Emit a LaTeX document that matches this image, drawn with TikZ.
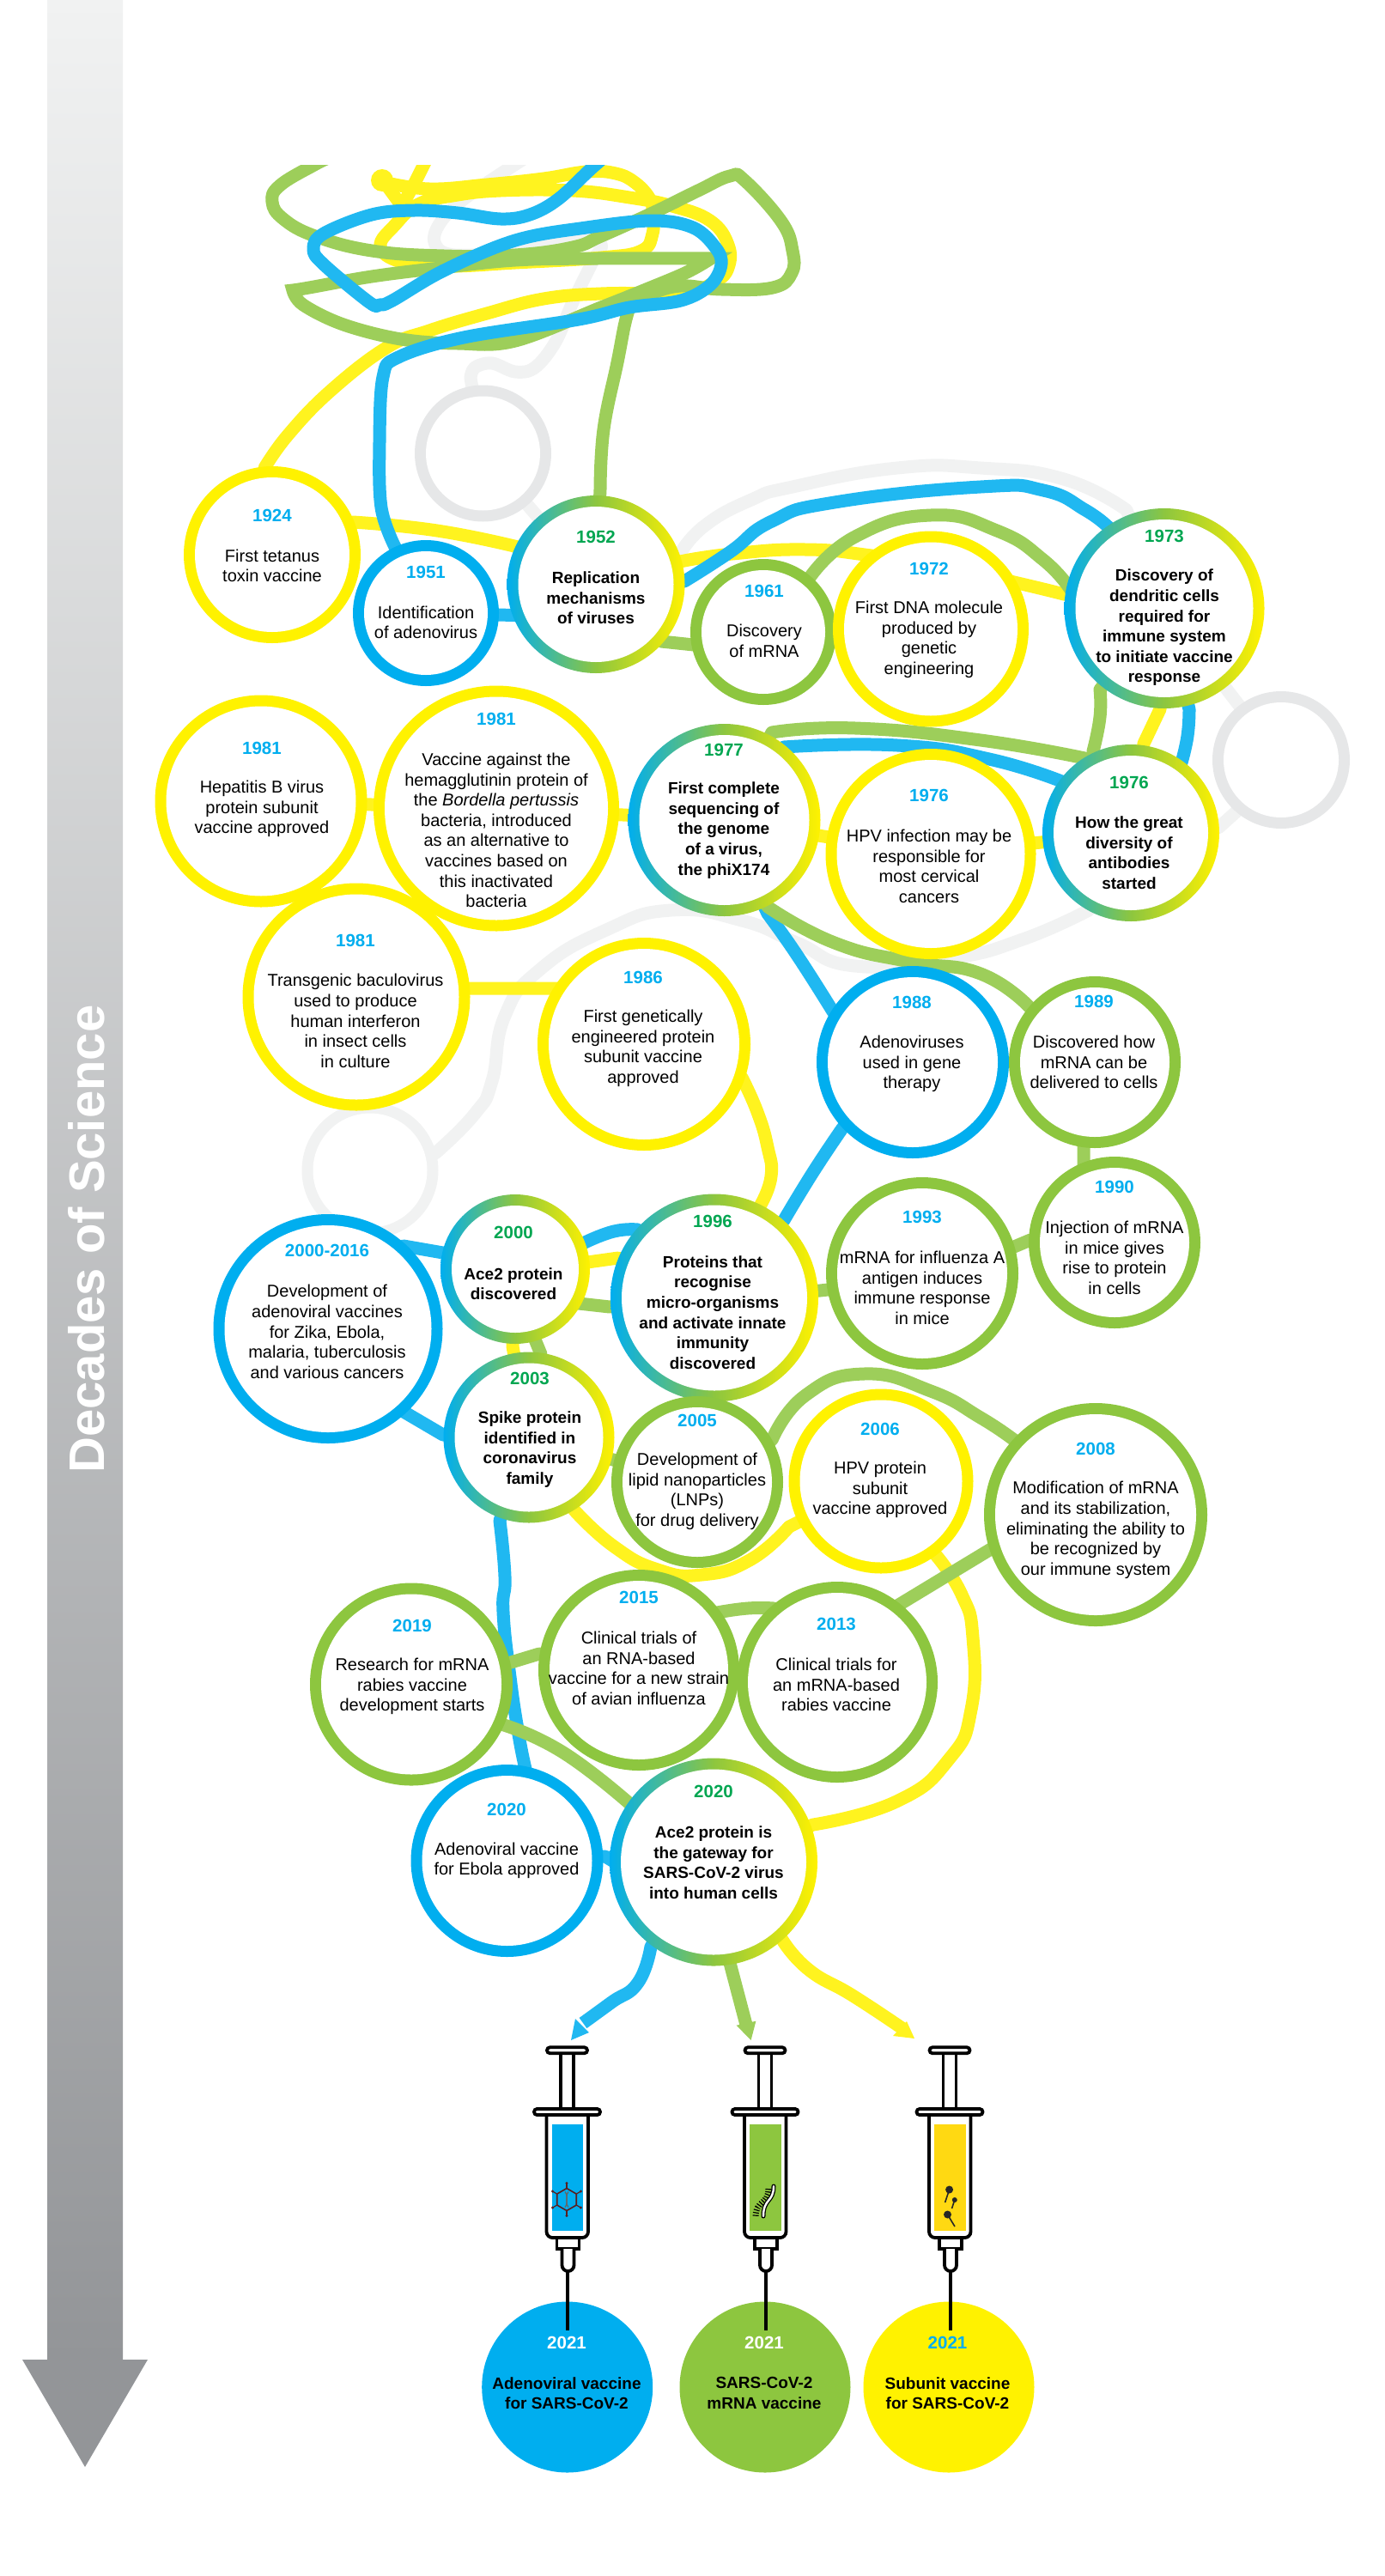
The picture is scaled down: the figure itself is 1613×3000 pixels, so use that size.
\documentclass[tikz,border=0pt]{standalone}
\usepackage{fontspec}
\setmainfont{Liberation Sans}
\definecolor{rblue}{HTML}{00AEEF}
\definecolor{rgreen}{HTML}{8DC63F}
\definecolor{ryellow}{HTML}{FFF200}
\definecolor{lblue}{HTML}{20B8F1}
\definecolor{lgreen}{HTML}{9DCE5A}
\definecolor{lyellow}{HTML}{FFF31F}
\definecolor{lgrey}{HTML}{F1F2F2}
\definecolor{mgrey}{HTML}{E6E7E8}
\definecolor{ygreen}{HTML}{00A651}
\definecolor{dgold}{HTML}{FFD912}
\definecolor{barend}{HTML}{939598}
\definecolor{dnared}{HTML}{5A1E1E}
\pgfdeclarelayer{conns}
\pgfsetlayers{conns,main}
\tikzset{
 ring/.style={circle,inner sep=0pt,outer sep=0pt,draw=none},
 rb/.style={fill=rblue},
 rg/.style={fill=rgreen},
 ry/.style={fill=ryellow},
 rm/.style={fill=mgrey},
 rl/.style={fill=lgrey},
 rgrad/.style={left color=rblue,right color=ryellow,middle color=rgreen},
 conn/.style={line width=15pt,line join=round,line cap=butt},
 cb/.style={conn,draw=lblue},
 cg/.style={conn,draw=lgreen},
 cy/.style={conn,draw=lyellow},
 cl/.style={conn,draw=lgrey},
 yr/.style={font=\fontsize{20.5}{24}\selectfont\bfseries,text=rblue,inner sep=0pt},
 yrg/.style={font=\fontsize{20.5}{24}\selectfont\bfseries,text=ygreen,inner sep=0pt},
 yrw/.style={font=\fontsize{20.5}{24}\selectfont\bfseries,text=white,inner sep=0pt},
 bd/.style={font=\fontsize{20}{23.6}\selectfont,align=center,text=black,inner sep=0pt},
 bdb/.style={font=\fontsize{19}{23.6}\selectfont\bfseries,align=center,text=black,inner sep=0pt},
 syr/.style={draw=black,line width=3.8pt,fill=white},
}
\newcommand\ringn[5]{\node[ring,#5,minimum size=2*#4pt] (#1) at (#2,#3) {};
 \fill[white] (#1.center) circle[radius=#4pt-13pt];}
\newcommand\evt[8]{\node[#6] (y#1) at (#2,#3) {#4}; \node[#7] (t#1) at (#2,#5) {#8};}
% connector: from node to node, a smooth run between, straight pieces hidden beneath the rings
\newcommand\crvn[4]{\draw[#1] (#2.center) -- plot[smooth,tension=.85] coordinates {#3} -- (#4.center);}
\newcommand\syringe[2]{%
 \begin{scope}[shift={(#1,0)}]
  \draw[syr] (-8,2391) rectangle (7,2456);
  \draw[syr,rounded corners=3.4pt] (-24,2384.3) rectangle (23,2391.2);
  \draw[syr,rounded corners=7pt] (-24.5,2462) -- (-24.5,2606) -- (24,2606) -- (24,2462);
  \fill[#2] (-18.5,2474) rectangle (18,2598);
  \draw[syr] (-12.5,2606) rectangle (13.5,2619);
  \draw[syr] (-6.5,2619) -- (-6.5,2638) arc[start angle=180,end angle=360,radius=7pt] -- (7.5,2619);
  \draw[syr,rounded corners=3.4pt] (-39,2456) rectangle (38,2463);
  \draw[black,line width=4pt] (0,2645) -- (0,2714);
 \end{scope}}
\begin{document}
\begin{tikzpicture}[x=1pt,y=-1pt]
\useasboundingbox (0,0) rectangle (1613,3000);
% decades arrow
\shade[top color=lgrey,bottom color=barend] (55,0) rectangle (143,2748);
\fill[barend] (26,2748) -- (172,2748) -- (99,2873) -- cycle;
\node[rotate=90,font=\fontsize{58}{60}\selectfont\bfseries,text=white,inner sep=0pt] (title) at (101,1443) {Decades of Science};
% grey circles
\ringn{gc1}{562.5}{528}{79.5}{rm}
\ringn{gc2}{1492}{885}{80}{rm}
\ringn{gc3}{431}{1363}{79.5}{rl}
% rings
\ringn{n1924}{317}{646}{103}{ry}
\ringn{n1951}{496}{714}{85}{rb}
\ringn{n1952}{694}{680.5}{103.5}{rgrad}
\ringn{n1961}{889}{736}{85}{rg}
\ringn{n1972}{1084}{732.5}{114}{ry}
\ringn{n1973}{1356}{708.5}{116.5}{rgrad}
\ringn{n1976g}{1317}{970}{103}{rgrad}
\ringn{n1976y}{1084}{994.5}{122.5}{ry}
\ringn{n1981a}{304}{933}{123.5}{ry}
\ringn{n1981b}{578}{941.5}{143}{ry}
\ringn{n1977}{843.5}{955}{112}{rgrad}
\ringn{n1981c}{415}{1161}{132.5}{ry}
\ringn{n1986}{750}{1216}{124}{ry}
\ringn{n2000x}{382}{1547.5}{133.5}{rb}
\ringn{n2000}{600}{1478}{87}{rgrad}
\ringn{n1996}{832}{1511.5}{121}{rgrad}
\ringn{n2003}{616}{1674}{99.5}{rgrad}
\ringn{n2005}{812}{1726}{100}{rg}
\ringn{n1988}{1063}{1237}{112}{rb}
\ringn{n1989}{1275}{1237}{100}{rg}
\ringn{n1990}{1298}{1447}{100}{rg}
\ringn{n1993}{1074}{1483}{112}{rg}
\ringn{n2006}{1026}{1725}{107.5}{ry}
\ringn{n2008}{1276}{1764}{130}{rg}
\ringn{n2019}{479}{1961.5}{118}{rg}
\ringn{n2015}{744}{1945}{117}{rg}
\ringn{n2013}{975}{1959}{117}{rg}
\ringn{n2020b}{590.5}{2167}{112}{rb}
\ringn{n2020g}{831}{2168.5}{121}{rgrad}
% discs
\node[ring,rb,minimum size=199pt] (d1) at (660.7,2780) {};
\node[ring,rg,minimum size=199pt] (d2) at (891,2780) {};
\node[ring,ry,minimum size=199pt] (d3) at (1105,2780) {};
% connectors
\begin{pgfonlayer}{conns}
\begin{scope}
\clip (0,192) rectangle (1613,3000);
% grey
\draw[cl] (gc1.center) -- plot[smooth,tension=.6] coordinates {(548,440) (553,428) (573,423) (600,433) (623,428) (647,398) (667,352) (690,305) (700,284) (670,278) (600,292) (530,297) (507,285) (511,262) (540,232) (610,185)};
\draw[cl] (n1952.center) -- (gc1.center);
\crvn{cl}{n1952}{(792,645) (821,612) (875,582) (923,567) (1045,545) (1142,545) (1239,558) (1312,594)}{n1973}
\draw[cl] (n1973.center) -- (gc2.center);
\crvn{cl}{gc2}{(1439,946) (1419,964)}{n1976g}
\crvn{cl}{n1976g}{(1268,1060) (1191,1094) (1108,1116) (996,1125) (928,1098) (864,1072) (782,1060) (706,1083) (629,1129) (588,1183) (573,1259) (553,1297) (507,1343)}{gc3}
\draw[cl] (gc3.center) -- (n2000x.center);
% yellow
\draw[cy] (n1924.center) -- plot[smooth,tension=.7] coordinates {(308,545) (335,507) (384,456) (450,405) (500,385) (567,365) (633,348) (700,342) (767,342) (800,342) (833,328) (848,312) (848,285) (827,257) (783,240) (733,230) (667,222) (583,222) (527,228) (487,238) (460,262) (443,287) (467,305) (520,310) (600,306) (700,300) (747,292) (760,272) (760,248) (757,232) (740,213) (717,202) (683,200) (633,208) (567,215) (500,220) (446,212)};
\fill[lyellow] (445,210) circle[radius=13pt];
\draw[cy] (446,210) -- (468,240) -- (482,215) -- (497,185);
\crvn{cy}{n1924}{(411,608) (509,618) (603,637)}{n1952}
\crvn{cy}{n1952}{(792,654) (853,645) (938,640) (1015,647) (1100,660) (1181,678) (1239,692)}{n1973}
\crvn{cy}{n1973}{(1351,826) (1332,866)}{n1976g}
\draw[cy] (n1976g.center) -- (n1976y.center);
\draw[cy] (n1976y.center) -- (n1977.center);
\draw[cy] (n1977.center) -- (n1981b.center);
\draw[cy] (n1981b.center) -- (n1981a.center);
\draw[cy] (n1981c.center) -- (548,1151) -- (650,1151) -- (n1986.center);
\crvn{cy}{n1986}{(864,1255) (882,1295) (894,1336) (898,1370) (886,1403)}{n1996}
\draw[cy] (n1996.center) -- (720,1465) -- (684,1470) -- (n2000.center);
\draw[cy] (n2000.center) -- (597,1568) -- (n2003.center);
\crvn{cy}{n2003}{(669,1759) (715,1801) (766,1828) (817,1834) (873,1817) (919,1778)}{n2006}
\crvn{cy}{n2006}{(1090,1811) (1120,1857) (1133,1907) (1131,1991) (1105,2049) (1044,2098) (947,2125)}{n2020g}
\coordinate (ay) at (1052,2363);
\draw[cy] (n2020g.center) -- plot[smooth,tension=.85] coordinates {(911,2259) (942,2294) (993,2324) (ay)};
\fill[lyellow] (1065,2374) -- (1040,2371) -- (1056,2354) -- cycle;
% blue under green
\crvn{cb}{n2003}{(582,1771) (588,1836) (586,1877) (594,1953) (604,2020) (612,2060)}{n2020b}
\crvn{cb}{n1977}{(894,1064) (928,1112) (970,1178)}{n1988}
% green
\draw[cg] (n1952.center) -- plot[smooth,tension=.7] coordinates {(699,570) (703,500) (719,422) (730,368) (740,348) (757,342) (793,333) (840,337) (900,335) (922,318) (923,292) (910,258) (867,210) (850,205) (813,222) (760,248) (700,275) (667,288) (600,297) (517,298) (433,292) (367,275) (330,255) (317,235) (326,216) (366,192) (385,183)};
\draw[cg,line join=miter] plot[smooth,tension=.6] coordinates {(828,301) (696,301) (600,303) (513,312) (433,322) (360,335) (341,338)} -- plot[smooth,tension=.6] coordinates {(341,338) (353,355) (400,378) (467,395) (533,400) (600,397) (700,358) (750,338) (800,317) (828,301)} -- cycle;
\crvn{cg}{n1952}{(770,747) (808,751)}{n1961}
\crvn{cg}{n1961}{(942,674) (996,625) (1084,600) (1161,618) (1215,652) (1247,687)}{n1973}
\crvn{cg}{n1973}{(1281,803) (1281,835) (1273,875)}{n1976g}
\crvn{cg}{n1976g}{(1268,884) (1142,862) (996,848) (899,853)}{n1977}
\crvn{cg}{n1977}{(894,1056) (972,1098) (1059,1120) (1142,1134) (1200,1174)}{n1989}
\draw[cg] (n1989.center) -- (1262,1300) -- (1262,1380) -- (n1990.center);
\draw[cg] (n1990.center) -- (1200,1444) -- (1181,1452) -- (n1993.center);
\draw[cg] (n1993.center) -- (964,1502) -- (955,1503) -- (n1996.center);
\draw[cg] (n1996.center) -- (710,1522) -- (674,1518) -- (n2000.center);
\draw[cg] (n2000.center) -- (623,1560) -- (630,1577) -- (n2003.center);
\draw[cg] (n2003.center) -- (n2005.center);
\crvn{cg}{n2005}{(899,1677) (938,1625) (1006,1600) (1084,1620) (1142,1651) (1181,1677)}{n2008}
\draw[cg] (n2008.center) -- (1154,1804) -- (1045,1870) -- (n2013.center);
\crvn{cg}{n2013}{(901,1873) (871,1873) (835,1878)}{n2015}
\draw[cg] (n2015.center) -- (628,1926) -- (595,1936) -- (n2019.center);
\crvn{cg}{n2019}{(587,2009) (656,2041) (735,2102)}{n2020g}
\coordinate (ag) at (869,2358);
\draw[cg] (n2020g.center) -- (850,2286) -- (ag);
\fill[lgreen] (874.6,2376) -- (857.6,2358.7) -- (880.4,2353.7) -- cycle;
% blue on top
\draw[cb] (n1951.center) -- plot[smooth,tension=.6] coordinates {(460,637) (444,591) (442,515) (446,439) (464,416) (540,393) (674,372) (733,358) (793,350) (827,332) (840,308) (833,288) (807,265) (760,257) (683,265) (600,280) (517,315) (457,350) (442,355) (430,352) (377,308) (365,290) (377,272) (433,250) (483,245) (533,248) (583,255) (617,250) (650,232) (690,195) (725,165)};
\draw[cb] (n1951.center) -- (620,717) -- (n1952.center);
\crvn{cb}{n1952}{(797,677) (850,643) (899,607) (972,585) (1142,567) (1215,571) (1264,594) (1293,616)}{n1973}
\crvn{cb}{n1973}{(1385,826) (1383,857) (1376,888)}{n1976g}
\crvn{cb}{n1976g}{(1239,911) (1152,884) (1045,868) (913,870)}{n1977}
\crvn{cb}{n1988}{(981,1314) (947,1365) (913,1421)}{n1996}
\crvn{cb}{n1996}{(743,1432) (715,1434) (681,1447)}{n2000}
\draw[cb] (n2000.center) -- (516,1459) -- (470,1451) -- (n2000x.center);
\draw[cb] (n2000x.center) -- (470,1644) -- (516,1671) -- (n2003.center);
\draw[cb] (n2020b.center) -- (705,2162) -- (723,2173) -- (n2020g.center);
\coordinate (ab) at (679,2356);
\draw[cb] (n2020g.center) -- plot[smooth,tension=.85] coordinates {(758,2267) (743,2309) (712,2332) (ab)};
\fill[lblue] (665,2376) -- (670,2351) -- (686,2367) -- cycle;
\end{scope}
\end{pgfonlayer}
% syringes
\syringe{661}{rblue}
\syringe{891.5}{rgreen}
\syringe{1106.5}{dgold}
% icons
\begin{scope}[shift={(660,2561.5)},x=1pt,y=1pt]
 \draw[dnared,line width=1.6pt] (90:13) -- (30:13) -- (-30:13) -- (-90:13) -- (-150:13) -- (150:13) -- cycle;
 \foreach \a in {90,30,-30,-90,-150,150}{\draw[dnared,line width=1.2pt] (\a:13) -- (\a:19); \fill[dnared] (\a:19) circle[radius=1.7pt];}
 \draw[black!60,line width=1.3pt] (-2,9) .. controls (3,3) and (-3,-3) .. (2,-9);
 \draw[black!60,line width=1.3pt] (2,9) .. controls (-3,3) and (3,-3) .. (-2,-9);
\end{scope}
\draw[black,dash pattern=on 1.2pt off 2pt,line width=7pt] (895,2549) .. controls (895,2568) and (880,2562) .. (880,2582);
\draw[black,line width=5pt,line cap=round] (901,2546) .. controls (901,2565) and (889,2560) .. (889,2581);
\draw[white,line width=2.4pt,line cap=round] (901,2546) .. controls (901,2565) and (889,2560) .. (889,2581);
\fill[black!85] (1105.6,2550) circle[radius=4.5pt];
\draw[black!85,line width=1.6pt] (1105.6,2550) -- (1100.6,2565);
\fill[black!85] (1111.8,2562) circle[radius=3pt];
\draw[black!85,line width=1.6pt] (1111.8,2562) -- (1108.5,2572);
\fill[black!85] (1103.5,2579) circle[radius=4.5pt];
\draw[black!85,line width=1.6pt] (1103.5,2579) -- (1112,2593);
% texts
\evt{1924}{317}{600}{1924}{659}{yr}{bd}{First tetanus\\toxin vaccine}
\evt{1951}{496}{666}{1951}{725}{yr}{bd}{Identification\\of adenovirus}
\evt{1952}{694}{625}{1952}{696.5}{yrg}{bdb}{Replication\\mechanisms\\of viruses}
\evt{1961}{890}{688}{1961}{746.5}{yr}{bd}{Discovery\\of mRNA}
\evt{1972}{1082}{662}{1972}{745}{yr}{bd}{First DNA molecule\\produced by\\genetic\\engineering}
\evt{1973}{1356}{624}{1973}{731}{yrg}{bdb}{Discovery of\\dendritic cells\\required for\\immune system\\to initiate vaccine\\response}
\evt{1976g}{1315}{911}{1976}{993}{yrg}{bdb}{How the great\\diversity of\\antibodies\\started}
\evt{1976y}{1082}{926}{1976}{1009}{yr}{bd}{HPV infection may be\\responsible for\\most cervical\\cancers}
\evt{1981a}{305}{871}{1981}{942}{yr}{bd}{Hepatitis B virus\\protein subunit\\vaccine approved}
\evt{1981b}{578}{837}{1981}{967}{yr}{bd}{Vaccine against the\\hemagglutinin protein of\\the \textit{Bordella pertussis}\\bacteria, introduced\\as an alternative to\\vaccines based on\\this inactivated\\bacteria}
\evt{1977}{843}{873}{1977}{967}{yrg}{bdb}{First complete\\sequencing of\\the genome\\of a virus,\\the phiX174}
\evt{1981c}{414}{1095}{1981}{1189}{yr}{bd}{Transgenic baculovirus\\used to produce\\human interferon\\in insect cells\\in culture}
\evt{1986}{749}{1138}{1986}{1221}{yr}{bd}{First genetically\\engineered protein\\subunit vaccine\\approved}
\evt{2000x}{381}{1456}{2000-2016}{1551}{yr}{bd}{Development of\\adenoviral vaccines\\for Zika, Ebola,\\malaria, tuberculosis\\and various cancers}
\evt{2000}{598}{1435}{2000}{1495}{yrg}{bdb}{Ace2 protein\\discovered}
\evt{1996}{830}{1422.5}{1996}{1528.5}{yrg}{bdb}{Proteins that\\recognise\\micro-organisms\\and activate innate\\immunity\\discovered}
\evt{2003}{617}{1605}{2003}{1688}{yrg}{bdb}{Spike protein\\identified in\\coronavirus\\family}
\evt{2005}{812}{1654}{2005}{1737}{yr}{bd}{Development of\\lipid nanoparticles\\(LNPs)\\for drug delivery}
\evt{1988}{1062}{1167}{1988}{1239}{yr}{bd}{Adenoviruses\\used in gene\\therapy}
\evt{1989}{1274}{1166}{1989}{1237}{yr}{bd}{Discovered how\\mRNA can be\\delivered to cells}
\evt{1990}{1298}{1382}{1990}{1465}{yr}{bd}{Injection of mRNA\\in mice gives\\rise to protein\\in cells}
\evt{1993}{1074}{1417}{1993}{1500}{yr}{bd}{mRNA for influenza A\\antigen induces\\immune response\\in mice}
\evt{2006}{1025}{1664}{2006}{1735}{yr}{bd}{HPV protein\\subunit\\vaccine approved}
\evt{2008}{1276}{1687}{2008}{1782}{yr}{bd}{Modification of mRNA\\and its stabilization,\\eliminating the ability to\\be recognized by\\our immune system}
\evt{2019}{480}{1893}{2019}{1964}{yr}{bd}{Research for mRNA\\rabies vaccine\\development starts}
\evt{2015}{744}{1860.5}{2015}{1943}{yr}{bd}{Clinical trials of\\an RNA-based\\vaccine for a new strain\\of avian influenza}
\evt{2013}{974}{1891}{2013}{1962}{yr}{bd}{Clinical trials for\\an mRNA-based\\rabies vaccine}
\evt{2020b}{590}{2107}{2020}{2167}{yr}{bd}{Adenoviral vaccine\\for Ebola approved}
\evt{2020g}{831}{2086}{2020}{2169}{yrg}{bdb}{Ace2 protein is\\the gateway for\\SARS-CoV-2 virus\\into human cells}
\evt{2021a}{660}{2728}{2021}{2787}{yrw}{bdb}{Adenoviral vaccine\\for SARS-CoV-2}
\evt{2021b}{890}{2728}{2021}{2787}{yrw}{bdb}{SARS-CoV-2\\mRNA vaccine}
\evt{2021c}{1103.5}{2728}{2021}{2787}{yr}{bdb}{Subunit vaccine\\for SARS-CoV-2}
\end{tikzpicture}
\end{document}
